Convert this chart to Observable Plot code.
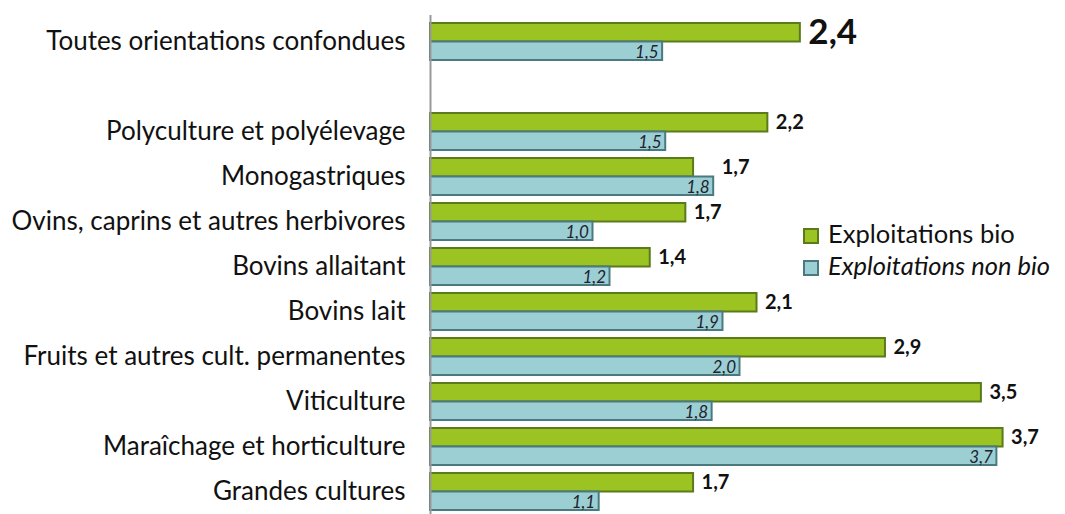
<!DOCTYPE html>
<html><head><meta charset="utf-8">
<script src="https://cdn.jsdelivr.net/npm/d3@7"></script>
<script src="https://cdn.jsdelivr.net/npm/@observablehq/plot@0.6"></script>
<style>
body{margin:0;background:#fff;}
#wrap{position:relative;width:1065px;height:514px;font-family:Lato,sans-serif;}
#legend{position:absolute;left:803px;top:217px;font-size:25.5px;color:#111;line-height:32px;white-space:nowrap}
.sw{display:inline-block;box-sizing:border-box;width:16px;height:16px;margin-right:9px;vertical-align:-1px;border:2px solid}
</style></head><body><div id="wrap"><div id="legend"></div></div>
<script>
const categories = ["Toutes orientations confondues","Polyculture et polyélevage","Monogastriques","Ovins, caprins et autres herbivores","Bovins allaitant","Bovins lait","Fruits et autres cult. permanentes","Viticulture","Maraîchage et horticulture","Grandes cultures"];
const bio    = [2.39, 2.18, 1.70, 1.65, 1.42, 2.11, 2.94, 3.56, 3.70, 1.70];
const nonBio = [1.50, 1.52, 1.83, 1.05, 1.16, 1.89, 2.00, 1.82, 3.66, 1.09];
const bioLabels    = ["2,4","2,2","1,7","1,7","1,4","2,1","2,9","3,5","3,7","1,7"];
const nonBioLabels = ["1,5","1,5","1,8","1,0","1,2","1,9","2,0","1,8","3,7","1,1"];
const series = ["Exploitations bio","Exploitations non bio"];
const fills = ["#9bc423","#9ccfd4"];
const strokes = ["#5b7a1a","#4a7a7f"];

const rows = categories.map((c,i)=>({cat:c, bio:bio[i], non:nonBio[i], lb:bioLabels[i], ln:nonBioLabels[i]}));
const domain = [categories[0], " ", ...categories.slice(1)];
const half = 18.5;

const chart = Plot.plot({
  width:1065, height:514,
  marginLeft:430, marginRight:16, marginTop:20, marginBottom:1.5,
  style:{fontFamily:"Lato, sans-serif", background:"#fff"},
  x:{domain:[0,4], axis:null},
  y:{domain, paddingInner:0.186, paddingOuter:0, label:null, axis:null},
  marks:[
    Plot.axisY({tickSize:0, tickPadding:25, fontSize:26, label:null, color:"#111"}),
    Plot.barX(rows,{x:"bio", y:"cat", fill:fills[0], stroke:strokes[0], strokeWidth:2, insetBottom:half}),
    Plot.barX(rows,{x:"non", y:"cat", fill:fills[1], stroke:strokes[1], strokeWidth:2, insetTop:half}),
    Plot.ruleX([0],{stroke:"#999", strokeWidth:2, insetTop:-5, insetBottom:-2}),
    Plot.text(rows,{x:d=>Math.max(d.bio,d.non), y:"cat", text:"lb", dy:-half/2, dx:8, textAnchor:"start", fontWeight:"bold",
      fontSize:d=>d.cat===categories[0]?35:20, fill:"#111"}),
    Plot.text(rows,{x:"non", y:"cat", text:"ln", dy:half/2+1, dx:-4, textAnchor:"end", fontStyle:"italic",
      fontSize:17, fill:"#22222e"})
  ]
});
document.getElementById("wrap").prepend(chart);
document.getElementById("legend").innerHTML = series.map((s,i)=>
  `<div><span class="sw" style="background:${fills[i]};border-color:${strokes[i]}"></span><span style="font-style:${i?'italic':'normal'}">${s}</span></div>`).join("");
</script></body></html>
